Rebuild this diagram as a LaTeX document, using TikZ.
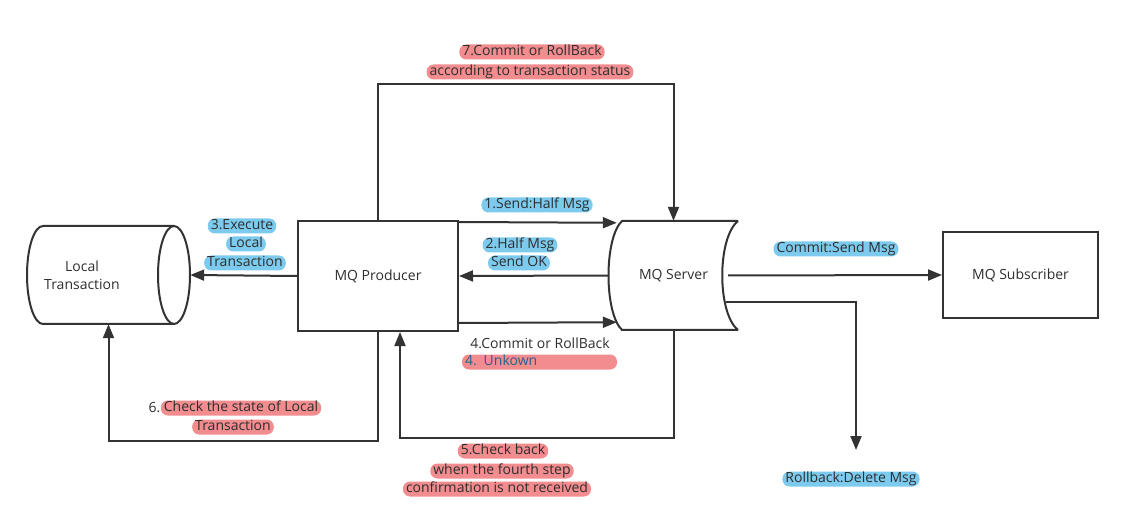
\documentclass[tikz,border=0pt]{standalone}
\usepackage{fontspec}
\setmainfont{Open Sans}
\usetikzlibrary{arrows.meta,calc}
\definecolor{ln}{HTML}{333333}
\definecolor{hlblue}{HTML}{7CCBEE}
\definecolor{hlred}{HTML}{F28C8F}
\definecolor{txt}{HTML}{2E2E2E}
\definecolor{unk}{HTML}{2B5E93}
\begin{document}
\begin{tikzpicture}[x=1pt,y=-1pt,
  font=\fontsize{14}{17}\selectfont,
  every node/.style={text=txt},
  box/.style={draw=ln,line width=2pt,inner sep=0pt},
  shp/.style={draw=ln,line width=2pt},
  arr/.style={draw=ln,line width=2pt,-{Triangle[length=14pt,width=11pt]}},
  hl/.style={rounded corners=7pt,inner xsep=3pt,inner ysep=0pt,minimum height=15pt,text height=10.5pt,text depth=3pt},
  hb/.style={hl,fill=hlblue},
  hr/.style={hl,fill=hlred},
  plain/.style={inner sep=0pt}]
\useasboundingbox (0,0) rectangle (1137,526);

% Local Transaction cylinder
\node[minimum width=163pt,minimum height=98pt,inner sep=0pt] (lt) at (108.5,275) {};
\draw[shp] (174,226) -- (43,226) arc[start angle=90,end angle=270,x radius=16pt,y radius=49pt] -- (174,324);
\draw[shp] (174,275) ellipse [x radius=16pt,y radius=49pt];
\node[align=center,plain] (ltxt) at (82,275) {Local\\[1pt]Transaction};

% MQ Producer
\node[box,minimum width=160pt,minimum height=110pt] (prod) at (378,276) {MQ Producer};

% MQ Server
\node[minimum width=129pt,minimum height=109pt,inner sep=0pt] (srv) at (673.5,275.5) {MQ Server};
\draw[shp] (738,221) -- (622,221) .. controls (604,238) and (604,313) .. (622,330) -- (738,330);
\draw[shp] (738,221) .. controls (717,238) and (717,313) .. (738,330);

% MQ Subscriber
\node[box,minimum width=155pt,minimum height=86pt] (sub) at (1020.5,275) {MQ Subscriber};

\coordinate (rb) at (856,450);

% connectors
\draw[arr] ($(prod.north east)+(0,2)$) -- ($(srv.north west)+(8,2)$);
\draw[arr] (srv.west) -- (prod.east);
\draw[arr] (prod.west) -- (lt.east);
\draw[arr] ($(prod.south east)+(0,-9)$) -- ($(srv.south west)+(8,-8)$);
\draw[arr] (srv.south) -- ++(0,108) -| ($(prod.south)+(22,0)$);
\draw[arr] (prod.south) -- ++(0,109) -| (lt.south);
\draw[arr] (prod.north) -- ++(0,-136) -| (srv.north);
\draw[arr] ($(srv.east)+(-10,0)$) -- (sub.west);
\draw[arr] ($(srv.east)+(-12,27)$) -| (rb);

% labels
\node[hr] (l7a) at (532,52) {7.Commit or RollBack};
\node[hr] (l7b) at (530,72) {according to transaction status};
\node[hb] (l1) at (537,205) {1.Send:Half Msg};
\node[hb] (l2a) at (520,245) {2.Half Msg};
\node[hb] (l2b) at (519,263) {Send OK};
\node[hb] (l3a) at (242,226) {3.Execute};
\node[hb] (l3b) at (246,244) {Local};
\node[hb] (l3c) at (245,263) {Transaction};
\node[hb] (lc) at (836,249) {Commit:Send Msg};
\node[hb] (lr) at (851,479) {Rollback:Delete Msg};
\node[plain] (l4a) at (540,343) {4.Commit or RollBack};
\node[hr,minimum width=155pt,text=unk,align=left,text width=149pt] (l4b) at (539.5,362) {4. Unkown};
\node[hr] (l5a) at (503,451) {5.Check back\hspace{6pt}};
\node[hr] (l5b) at (502,471) {when the fourth step\hspace{3pt}};
\node[hr] (l5c) at (497,489) {confirmation is not received};
\node[hr] (l6a) at (241,408) {Check the state of Local};
\node[plain,anchor=east] (l6n) at (l6a.west) {6.};
\node[hr] (l6b) at (233,427) {Transaction};
\end{tikzpicture}
\end{document}
